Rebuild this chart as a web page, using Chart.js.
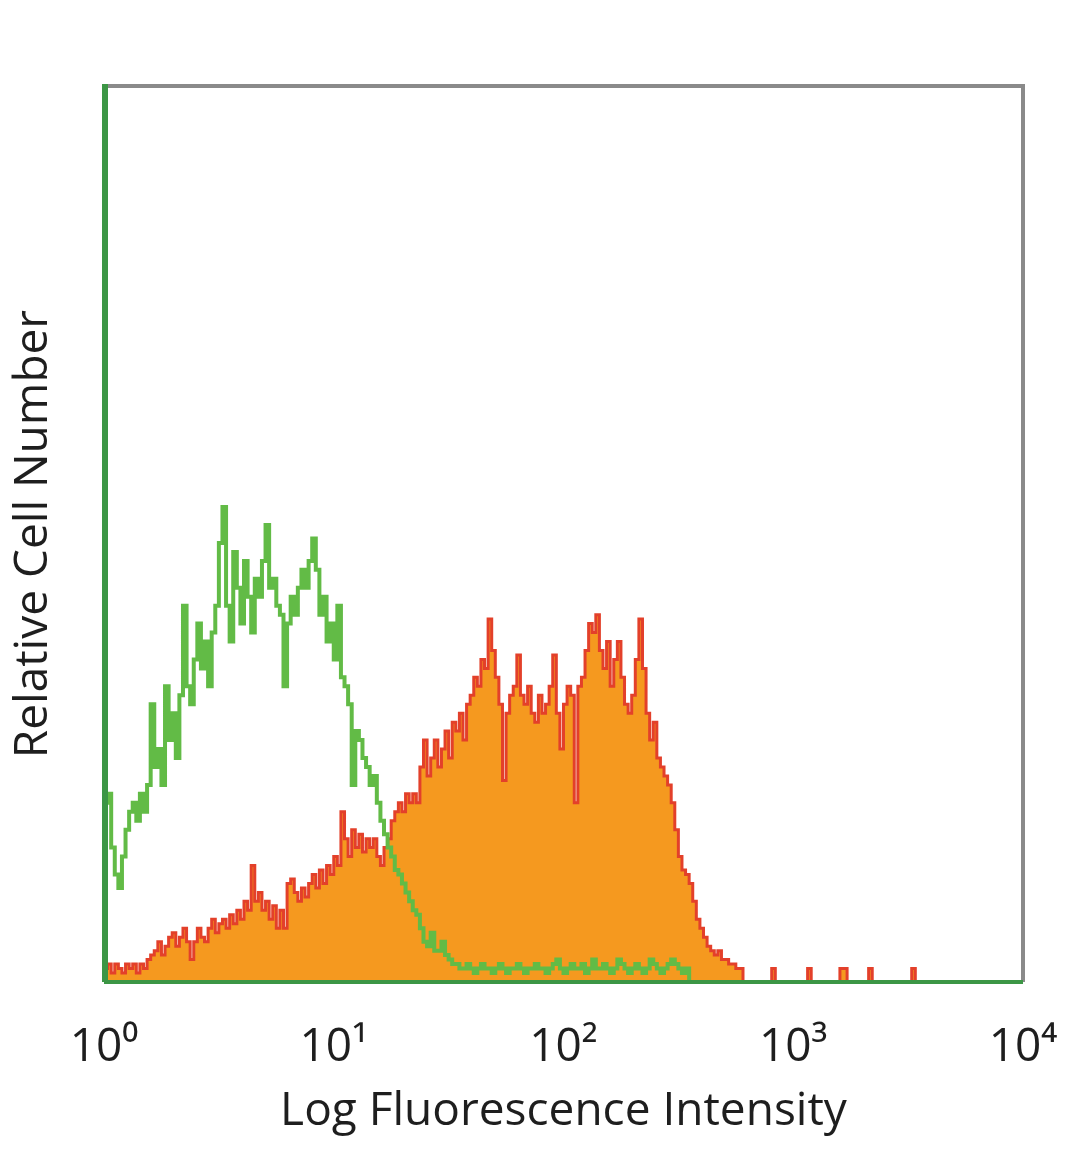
<!DOCTYPE html>
<html><head><meta charset="utf-8">
<script src="https://cdn.jsdelivr.net/npm/chart.js@4/dist/chart.umd.min.js"></script>
<style>html,body{margin:0;padding:0;background:#fff;} canvas{display:block;}</style>
</head><body>
<canvas id="c" width="1080" height="1169"></canvas>
<script>
// x axis: 256 log channels spanning 10^0 .. 10^4 (64 channels per decade)
const tickChannels = [0, 64, 128, 192, 256];
const tickLabels = ['10\u2070', '10\u00B9', '10\u00B2', '10\u00B3', '10\u2074'];
const xTitle = 'Log Fluorescence Intensity';
const yTitle = 'Relative Cell Number';

// isotype control (green line), counts per channel starting at channel 0
const isotypeCounts = [
  120,20,21,15,12,10.5,14,17,19,20,
  18,21,19,22,31,24,26,22,33,27,
  30,25,32,42,33,31,36,40,35,38,
  33,39,42,49,53,42,38,48,44,40,
  47,43,39,45,43,47,51,44,45,42,
  41,33,40,43,41,44,46,44,47,49.5,
  46,41,43,38,40,36,42,34,33,31,
  22,28,27,25,24,22,23,20,18,16.5,
  15,14,12.5,12,11,10,9,8,7.5,6,
  4.5,4,5.5,3.5,3.5,4.5,3,2.5,2,
  2,1.5,1.5,2,1.5,1,1.5,2,1.5,1.5,
  1,1.5,2,1.5,1,1.5,1.5,2,1.5,1,
  1.5,1.5,2,1.5,1.5,1,1.5,2,2.5,1.5,
  1,1.5,2,1.5,1.5,2,1,1.5,2.5,1.5,
  1.5,2,1.5,1,1.5,2.5,2,1.5,1,1.5,
  2,1.5,1,1.5,2.5,2,1.5,1,1.5,2,
  2.5,2,1.5,1,1.5,0
];

// stained sample (orange filled, red outline), counts per channel starting at channel 0
const stainedCounts = [
  0,1.5,2,1,2,1.5,1,2,1.5,2,
  1,2,1.5,2.5,3,3.5,4.5,3,4,5,
  5.5,4,5,6,4.5,2.5,4.5,6,5,4.5,
  6,7,5.5,6.5,7,6,7.5,6.5,8,7,
  9,8,13,9,10,8,9,7,8.5,6,
  8,6,11,11.5,10,9,10.5,9.5,11,12,
  10.5,12.5,11,13,12,14,13,19,16,14,
  17,15,16.5,14.5,16,15,16,14,13,15,
  16,18,19,20,19,21,20,21,20,24,
  27,23,25,27,24,26,28,25,29,28,
  30,27,31,32,34,33,36,35,40.5,37,
  34,31,22.5,30,32,33,36.5,32,31,33,
  30,29,32,30,31,33,36.5,30,26,31,
  33,32,20,33,34,37,40,39,41,37,
  35,38,33,36,38,34,31,30,32,36,
  40.5,35,30,27,29,25,24,23,22,20,
  17,14,12.5,12,11,9,7,6,5,4,
  3.5,3,3.5,2.5,2.5,2,2,1.5,1.5,0,
  0,0,0,0,0,0,0,1.5,0,0,
  0,0,0,0,0,0,0,1.5,0,0,
  0,0,0,0,0,0,1.5,1.5,0,0,
  0,0,0,0,1.5,0,0,0,0,0,
  0,0,0,0,0,0,1.5,0
];

const toPoints = arr => arr.map((v, i) => ({ x: i, y: v }));
const FONT = '"Open Sans", "DejaVu Sans", sans-serif';

const framePlugin = {
  id: 'frame',
  afterDatasetsDraw(chart) {
    const { ctx, chartArea: a } = chart;
    ctx.save();
    ctx.lineWidth = 4;
    ctx.strokeStyle = '#8a8a8a';
    ctx.beginPath();
    ctx.moveTo(a.left, a.top); ctx.lineTo(a.right, a.top); ctx.lineTo(a.right, a.bottom);
    ctx.stroke();
    ctx.strokeStyle = '#3c9645';
    ctx.lineWidth = 4;
    ctx.beginPath();
    ctx.moveTo(a.right, a.bottom); ctx.lineTo(a.left, a.bottom);
    ctx.stroke();
    ctx.lineWidth = 6;
    ctx.beginPath();
    ctx.moveTo(a.left + 1, a.bottom); ctx.lineTo(a.left + 1, a.top - 2);
    ctx.stroke();
    ctx.restore();
  }
};

new Chart(document.getElementById('c'), {
  type: 'line',
  data: {
    datasets: [
      {
        label: 'Isotype control',
        data: toPoints(isotypeCounts),
        borderColor: '#62bb46',
        borderWidth: 4,
        stepped: 'after',
        pointRadius: 0,
        fill: false,
        order: 0
      },
      {
        label: 'Stained',
        data: toPoints(stainedCounts),
        borderColor: '#e3402a',
        borderWidth: 3,
        backgroundColor: '#f5991f',
        fill: 'origin',
        stepped: 'after',
        pointRadius: 0,
        order: 1
      }
    ]
  },
  options: {
    responsive: false,
    animation: false,
    devicePixelRatio: 1,
    layout: { padding: { top: 86, right: 57, bottom: 30, left: 0 } },
    plugins: { legend: { display: false }, tooltip: { enabled: false } },
    scales: {
      x: {
        type: 'linear',
        min: 0, max: 256,
        afterBuildTicks: s => { s.ticks = tickChannels.map(v => ({ value: v })); },
        afterFit: s => { s.height = 157; s.paddingLeft = 0; s.paddingRight = 0; },
        ticks: {
          callback: v => tickLabels[tickChannels.indexOf(v)],
          font: { family: FONT, size: 46 },
          color: '#1e1e1e',
          padding: 38,
          maxRotation: 0,
          autoSkip: false
        },
        grid: { display: false, drawTicks: false },
        border: { display: false },
        title: { display: true, text: xTitle, font: { family: FONT, size: 46 }, color: '#1e1e1e', padding: 0 }
      },
      y: {
        min: 0, max: 100,
        afterFit: s => { s.width = 104; s.paddingTop = 0; s.paddingBottom = 0; },
        ticks: { display: false },
        grid: { display: false, drawTicks: false },
        border: { display: false },
        title: { display: true, text: yTitle, font: { family: FONT, size: 46 }, color: '#1e1e1e', padding: { top: 6, bottom: 0 } }
      }
    }
  },
  plugins: [framePlugin]
});
</script>
</body></html>
